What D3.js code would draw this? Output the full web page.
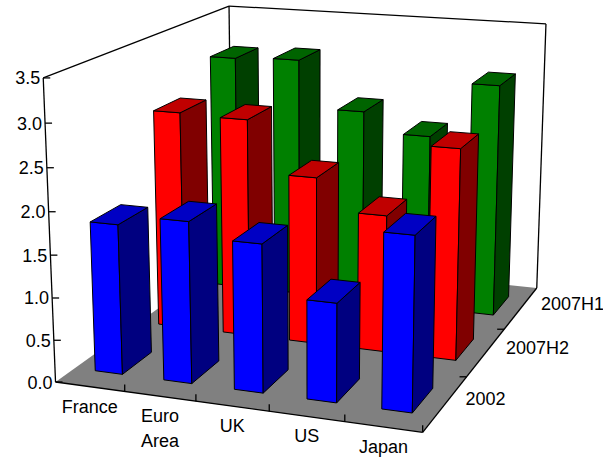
<!DOCTYPE html>
<html>
<head>
<meta charset="utf-8">
<script src="https://cdn.jsdelivr.net/npm/d3@7"></script>
<style>
body { margin: 0; background: #fff; }
svg { display: block; font-family: Arial, "Liberation Sans", sans-serif; }
</style>
</head>
<body>
<svg width="603" height="459"></svg>
<script>
// data
var countries = ['France', 'Euro Area', 'UK', 'US', 'Japan'];
var periods = ['2002', '2007H2', '2007H1'];          // front row to back row
var v2002   = [1.78, 1.90, 1.73, 1.15, 2.00];
var v2007H2 = [2.70, 2.68, 2.05, 1.67, 2.54];
var v2007H1 = [3.05, 3.08, 2.48, 2.23, 2.93];
var valueTicks = [0, 0.5, 1.0, 1.5, 2.0, 2.5, 3.0, 3.5];

var series = [
    {name: '2002',   values: v2002,   front: '#0000ff', side: '#000080', top: '#0000c4'},
    {name: '2007H2', values: v2007H2, front: '#ff0000', side: '#800000', top: '#c00000'},
    {name: '2007H1', values: v2007H1, front: '#008000', side: '#004000', top: '#006400'}
];

var svg = d3.select('svg');

// scales in box units (0..1 on each axis)
var xCell = d3.scaleBand().domain(countries).range([0, 1]);
var zCell = d3.scaleBand().domain(periods).range([0, 1]);
var yVal = d3.scaleLinear().domain([0, 3.5]).range([0, 1]);

// perspective camera, fitted to where the box corners sit on the page
var calib = [
    [[0, 0, 0], [56, 383]], [[1, 0, 0], [423, 432]], [[1, 0, 1], [537, 288]],
    [[0, 1, 0], [43, 78]],  [[0, 1, 1], [229, 6]],   [[1, 1, 1], [546, 24]],
    [[0.2, 0, 0], [124, 391]], [[0.4, 0, 0], [195, 400]],
    [[0.6, 0, 0], [270, 412]], [[0.8, 0, 0], [345, 422]],
    [[1, 0, 1/3], [466, 377]], [[1, 0, 2/3], [504, 329]],
    [[0, 3/7, 0], [51, 255]],  [[0, 6/7, 0], [45, 123]]
];

function solve(A, b) {
    var n = b.length, i, j, k;
    for (i = 0; i < n; i++) {
        var p = i;
        for (k = i + 1; k < n; k++) if (Math.abs(A[k][i]) > Math.abs(A[p][i])) p = k;
        var t = A[i]; A[i] = A[p]; A[p] = t;
        var tb = b[i]; b[i] = b[p]; b[p] = tb;
        for (k = i + 1; k < n; k++) {
            var f = A[k][i] / A[i][i];
            for (j = i; j < n; j++) A[k][j] -= f * A[i][j];
            b[k] -= f * b[i];
        }
    }
    var x = new Array(n);
    for (i = n - 1; i >= 0; i--) {
        var s = b[i];
        for (j = i + 1; j < n; j++) s -= A[i][j] * x[j];
        x[i] = s / A[i][i];
    }
    return x;
}

var M = (function() {
    var rows = [], rhs = [];
    calib.forEach(function(c) {
        var X = c[0][0], Y = c[0][1], Z = c[0][2], u = c[1][0], v = c[1][1];
        rows.push([X, Y, Z, 1, 0, 0, 0, 0, -u * X, -u * Y, -u * Z]); rhs.push(u);
        rows.push([0, 0, 0, 0, X, Y, Z, 1, -v * X, -v * Y, -v * Z]); rhs.push(v);
    });
    var AtA = d3.range(11).map(function(i) {
        return d3.range(11).map(function(j) { return d3.sum(rows, function(r) { return r[i] * r[j]; }); });
    });
    var Atb = d3.range(11).map(function(i) { return d3.sum(rows, function(r, k) { return r[i] * rhs[k]; }); });
    return solve(AtA, Atb);
})();

function proj(x, y, z) {
    var w = M[8] * x + M[9] * y + M[10] * z + 1;
    return [(M[0] * x + M[1] * y + M[2] * z + M[3]) / w,
            (M[4] * x + M[5] * y + M[6] * z + M[7]) / w];
}
function poly(pts) {
    return 'M' + pts.map(function(p) { return proj(p[0], p[1], p[2]).join(','); }).join('L') + 'Z';
}
function line(a, b) {
    return 'M' + proj(a[0], a[1], a[2]).join(',') + 'L' + proj(b[0], b[1], b[2]).join(',');
}

// floor
svg.append('path').attr('d', poly([[0, 0, 0], [1, 0, 0], [1, 0, 1], [0, 0, 1]]))
    .attr('fill', '#808080');

// walls frame
var frame = svg.append('g').attr('fill', 'none').attr('stroke', '#000').attr('stroke-width', 1.3);
frame.append('path').attr('d', line([0, 1, 0], [0, 1, 1]));
frame.append('path').attr('d', line([0, 1, 1], [1, 1, 1]));
frame.append('path').attr('d', line([0, 0, 1], [0, 1, 1]));
frame.append('path').attr('d', line([1, 0, 1], [1, 1, 1]));

// bars, back row first, left to right
var wFrac = 0.4, dFrac = 0.45;
var bars = [];
series.slice().reverse().forEach(function(s) {
    countries.forEach(function(c, i) {
        var x0 = xCell(c) + xCell.bandwidth() * (1 - wFrac) / 2;
        var x1 = x0 + xCell.bandwidth() * wFrac;
        var z0 = zCell(s.name) + zCell.bandwidth() * (1 - dFrac) / 2;
        var z1 = z0 + zCell.bandwidth() * dFrac;
        bars.push({s: s, x0: x0, x1: x1, z0: z0, z1: z1, h: yVal(s.values[i])});
    });
});

var barG = svg.selectAll('g.bar').data(bars).enter().append('g').attr('class', 'bar')
    .attr('stroke', '#000').attr('stroke-width', 1).attr('stroke-linejoin', 'round');
barG.append('path').attr('fill', function(d) { return d.s.front; })
    .attr('d', function(d) { return poly([[d.x0, 0, d.z0], [d.x1, 0, d.z0], [d.x1, d.h, d.z0], [d.x0, d.h, d.z0]]); });
barG.append('path').attr('fill', function(d) { return d.s.side; })
    .attr('d', function(d) { return poly([[d.x1, 0, d.z0], [d.x1, 0, d.z1], [d.x1, d.h, d.z1], [d.x1, d.h, d.z0]]); });
barG.append('path').attr('fill', function(d) { return d.s.top; })
    .attr('d', function(d) { return poly([[d.x0, d.h, d.z0], [d.x1, d.h, d.z0], [d.x1, d.h, d.z1], [d.x0, d.h, d.z1]]); });

// axes
var ax = svg.append('g').attr('fill', 'none').attr('stroke', '#000').attr('stroke-width', 1.3);
ax.append('path').attr('d', line([0, 0, 0], [0, 1, 0]));
ax.append('path').attr('d', line([0, 0, 0], [1, 0, 0]));
ax.append('path').attr('d', line([1, 0, 0], [1, 0, 1]));

var txt = svg.append('g').attr('font-size', 18).attr('fill', '#000');

// value axis ticks
valueTicks.forEach(function(t) {
    var p = proj(0, yVal(t), 0);
    ax.append('path').attr('d', 'M' + p[0] + ',' + p[1] + 'h7');
    txt.append('text').attr('x', p[0] - 3).attr('y', p[1] + 6.5)
        .attr('text-anchor', 'end').text(d3.format('.1f')(t));
});

// category ticks and labels
d3.range(1, countries.length + 1).forEach(function(i) {
    var p = proj(i / countries.length, 0, 0);
    ax.append('path').attr('d', 'M' + p[0] + ',' + p[1] + 'v-7');
});
countries.forEach(function(c) {
    var p = proj(xCell(c) + xCell.bandwidth() / 2, 0, 0);
    var words = c.split(' ');
    var t = txt.append('text').attr('x', p[0]).attr('y', p[1] + 26).attr('text-anchor', 'middle');
    words.forEach(function(w, k) {
        t.append('tspan').attr('x', p[0]).attr('dy', k ? 25 : 0).text(w);
    });
});

// depth ticks and labels
d3.range(1, periods.length).forEach(function(i) {
    var p = proj(1, 0, i / periods.length);
    ax.append('path').attr('d', 'M' + p[0] + ',' + p[1] + 'h-7');
});
periods.forEach(function(name) {
    var p = proj(1, 0, zCell(name) + zCell.bandwidth() / 2);
    txt.append('text').attr('x', p[0] + 20).attr('y', p[1] + 2).text(name);
});
</script>
</body>
</html>
